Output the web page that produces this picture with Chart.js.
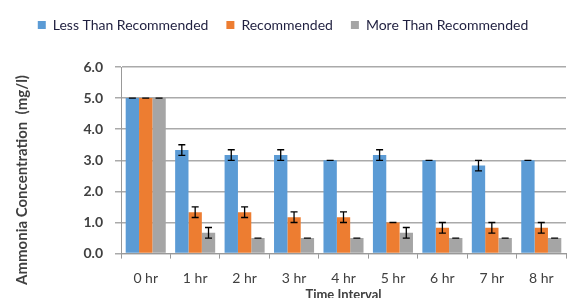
<!DOCTYPE html>
<html>
<head>
<meta charset="utf-8">
<script src="https://cdn.jsdelivr.net/npm/chart.js@4.4.0/dist/chart.umd.min.js"></script>
<style>
    html, body { margin: 0; padding: 0; background: #fff; overflow: hidden; }
    #wrap { width: 572px; height: 303px; }
</style>
</head>
<body>
<div id="wrap"><canvas id="chart"></canvas></div>
<script>
// Chart data
const categories = ['0 hr', '1 hr', '2 hr', '3 hr', '4 hr', '5 hr', '6 hr', '7 hr', '8 hr'];
const lessValues = [5.0, 3.33, 3.17, 3.17, 3.0, 3.17, 3.0, 2.83, 3.0];
const lessErrors = [0, 0.17, 0.17, 0.17, 0, 0.17, 0, 0.17, 0];
const recValues = [5.0, 1.33, 1.33, 1.17, 1.17, 1.0, 0.83, 0.83, 0.83];
const recErrors = [0, 0.17, 0.17, 0.17, 0.17, 0, 0.17, 0.17, 0.17];
const moreValues = [5.0, 0.67, 0.5, 0.5, 0.5, 0.67, 0.5, 0.5, 0.5];
const moreErrors = [0, 0.17, 0, 0, 0, 0.17, 0, 0, 0];
const yTicks = [0, 1, 2, 3, 4, 5, 6];

const FONT = 'Lato, "Open Sans", sans-serif';
const TEXT = '#404040';

// Draws the error bars from each dataset's "errors" array
const errorBars = {
    id: 'errorBars',
    afterDatasetsDraw(chart) {
        const ctx = chart.ctx;
        const y = chart.scales.y;
        chart.data.datasets.forEach((ds, di) => {
            const meta = chart.getDatasetMeta(di);
            meta.data.forEach((bar, i) => {
                const v = ds.data[i];
                const e = ds.errors[i];
                const top = y.getPixelForValue(v + e);
                const bot = y.getPixelForValue(v - e);
                ctx.save();
                ctx.strokeStyle = '#000';
                ctx.lineWidth = 1.3;
                ctx.beginPath();
                ctx.moveTo(bar.x - 3.5, top); ctx.lineTo(bar.x + 3.5, top);
                ctx.moveTo(bar.x - 3.5, bot); ctx.lineTo(bar.x + 3.5, bot);
                if (e > 0) { ctx.moveTo(bar.x, top); ctx.lineTo(bar.x, bot); }
                ctx.stroke();
                ctx.restore();
            });
        });
    }
};

// Rotated y axis title, placed like the original
const yTitle = {
    id: 'yTitle',
    afterDraw(chart) {
        const ctx = chart.ctx;
        ctx.save();
        ctx.translate(22, 180);
        ctx.rotate(-Math.PI / 2);
        ctx.font = 'bold 15px ' + FONT;
        ctx.fillStyle = TEXT;
        ctx.textAlign = 'center';
        ctx.textBaseline = 'middle';
        ctx.fillText('Ammonia Concentration  (mg/l)', 0, 0);
        ctx.restore();
    }
};

// Extra room under the legend
const legendSpace = {
    id: 'legendSpace',
    beforeInit(chart) {
        const fit = chart.legend.fit;
        chart.legend.fit = function() {
            fit.bind(chart.legend)();
            this.height += 25;
        };
    }
};

new Chart(document.getElementById('chart'), {
    type: 'bar',
    data: {
        labels: categories,
        datasets: [
            { label: 'Less Than Recommended', data: lessValues, errors: lessErrors, backgroundColor: '#5B9BD5' },
            { label: 'Recommended', data: recValues, errors: recErrors, backgroundColor: '#ED7D31' },
            { label: 'More Than Recommended', data: moreValues, errors: moreErrors, backgroundColor: '#A5A5A5' }
        ]
    },
    options: {
        responsive: true,
        maintainAspectRatio: false,
        animation: false,
        datasets: { bar: { categoryPercentage: 0.81, barPercentage: 1.0 } },
        layout: { padding: { left: 0, right: 6, top: 0, bottom: 0 } },
        plugins: {
            legend: {
                position: 'top',
                labels: {
                    boxWidth: 8, boxHeight: 8, padding: 18,
                    color: '#1f1f3f',
                    font: { family: FONT, size: 14 }
                }
            },
            tooltip: { enabled: false }
        },
        scales: {
            x: {
                grid: { drawOnChartArea: false, drawTicks: true, tickLength: 5, color: '#999', lineWidth: 1 },
                border: { color: '#999', width: 1 },
                ticks: { color: TEXT, font: { family: FONT, size: 14 }, padding: 11 },
                title: { display: true, text: 'Time Interval', color: TEXT, font: { family: FONT, size: 13, weight: 'bold' }, padding: { top: -10, bottom: 0 } }
            },
            y: {
                min: 0, max: 6,
                afterFit: axis => { axis.width = 121; },
                afterBuildTicks: axis => { axis.ticks = yTicks.map(v => ({ value: v })); },
                grid: { color: '#aaa', lineWidth: 1.5, tickLength: 6 },
                border: { color: '#999', width: 1 },
                ticks: {
                    color: TEXT, padding: 12,
                    font: { family: FONT, size: 14, weight: 'bold' },
                    callback: v => v.toFixed(1)
                }
            }
        }
    },
    plugins: [errorBars, yTitle, legendSpace]
});
</script>
</body>
</html>
